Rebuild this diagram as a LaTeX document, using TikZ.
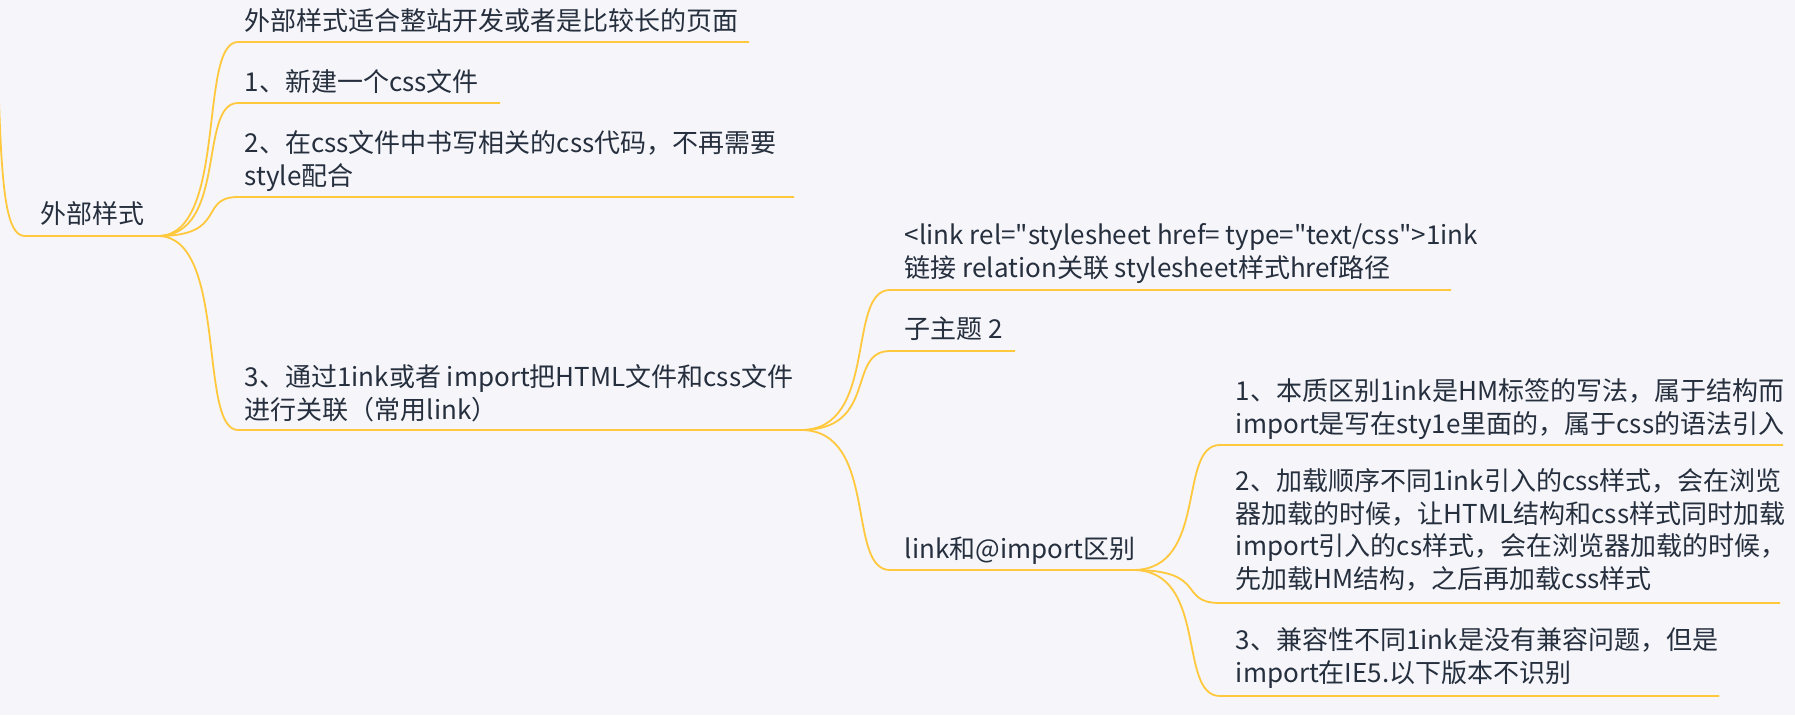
\documentclass[tikz,border=0pt]{standalone}
\usepackage{fontspec}
\setmainfont{Noto Sans CJK SC}
\definecolor{paper}{HTML}{F5F5FA}
\definecolor{branchyellow}{HTML}{FFC83D}
\definecolor{ink}{HTML}{262F3D}

\begin{document}
\begin{tikzpicture}[
  x=1pt,y=-1pt,line width=1.8pt,
  topic/.style={anchor=base west,align=left,inner sep=0pt,text=ink,
    font=\fontsize{26}{32.5}\selectfont},
  branch/.style={draw=branchyellow}
]
\fill[paper] (0,0) rectangle (1795,715);
\useasboundingbox (0,0) rectangle (1795,715);
% root
\coordinate (in) at (-1,100);
\coordinate (root-s) at (25,236);
\coordinate (root-e) at (158,236);
\node[topic] (root) at (40,223) {外部样式};
% first level
\node[topic] (t1) at (244,30) {外部样式适合整站开发或者是比较长的页面};
\node[topic] (t2) at (244,91) {1、新建一个css文件};
\node[topic] (t3) at (244,185) {2、在css文件中书写相关的css代码，不再需要\\style配合};
\node[topic] (t4) at (244,419) {3、通过1ink或者 import把HTML文件和css文件\\进行关联（常用link）};
\coordinate (t1-s) at (238,42);  \coordinate (t1-e) at (749,42);
\coordinate (t2-s) at (238,103); \coordinate (t2-e) at (500,103);
\coordinate (t3-s) at (238,197); \coordinate (t3-e) at (794,197);
\coordinate (t4-s) at (238,430); \coordinate (t4-e) at (801,430);
% second level
\node[topic] (link) at (904,277) {<link rel=\textquotedbl stylesheet href= type=\textquotedbl text/css\textquotedbl>1ink\\链接 relation关联 stylesheet样式href路径};
\node[topic] (sub) at (904,338) {子主题 2};
\node[topic] (diff) at (904,558) {link和@import区别};
\coordinate (link-s) at (890,290); \coordinate (link-e) at (1451,290);
\coordinate (sub-s) at (890,351);  \coordinate (sub-e) at (1015,351);
\coordinate (diff-s) at (890,570); \coordinate (diff-e) at (1133,570);
% third level
\node[topic] (d1) at (1235,433) {1、本质区别1ink是HM标签的写法，属于结构而\\import是写在sty1e里面的，属于css的语法引入};
\node[topic] (d2) at (1235,588) {2、加载顺序不同1ink引入的css样式，会在浏览\\器加载的时候，让HTML结构和css样式同时加载\\import引入的cs样式，会在浏览器加载的时候，\\先加载HM结构，之后再加载css样式};
\node[topic] (d3) at (1235,682) {3、兼容性不同1ink是没有兼容问题，但是\\import在IE5.以下版本不识别};
\coordinate (d1-s) at (1220,445); \coordinate (d1-e) at (1783,445);
\coordinate (d2-s) at (1220,603); \coordinate (d2-e) at (1780,603);
\coordinate (d3-s) at (1220,696); \coordinate (d3-e) at (1719,696);
% branches
\draw[branch] (in) .. controls +(3,95) and +(-18,0) .. (root-s) -- (root-e);
\draw[branch] (root-e) .. controls +(70,0) and +(-40,0) .. (t1-s) -- (t1-e);
\draw[branch] (root-e) .. controls +(70,0) and +(-40,0) .. (t2-s) -- (t2-e);
\draw[branch] (root-e) .. controls +(70,0) and +(-40,0) .. (t3-s) -- (t3-e);
\draw[branch] (root-e) .. controls +(70,0) and +(-40,0) .. (t4-s) -- (t4-e);
\draw[branch] (t4-e) .. controls +(78,0) and +(-44,0) .. (link-s) -- (link-e);
\draw[branch] (t4-e) .. controls +(78,0) and +(-44,0) .. (sub-s) -- (sub-e);
\draw[branch] (t4-e) .. controls +(78,0) and +(-44,0) .. (diff-s) -- (diff-e);
\draw[branch] (diff-e) .. controls +(76,0) and +(-43,0) .. (d1-s) -- (d1-e);
\draw[branch] (diff-e) .. controls +(76,0) and +(-43,0) .. (d2-s) -- (d2-e);
\draw[branch] (diff-e) .. controls +(76,0) and +(-43,0) .. (d3-s) -- (d3-e);
\end{tikzpicture}
\end{document}
